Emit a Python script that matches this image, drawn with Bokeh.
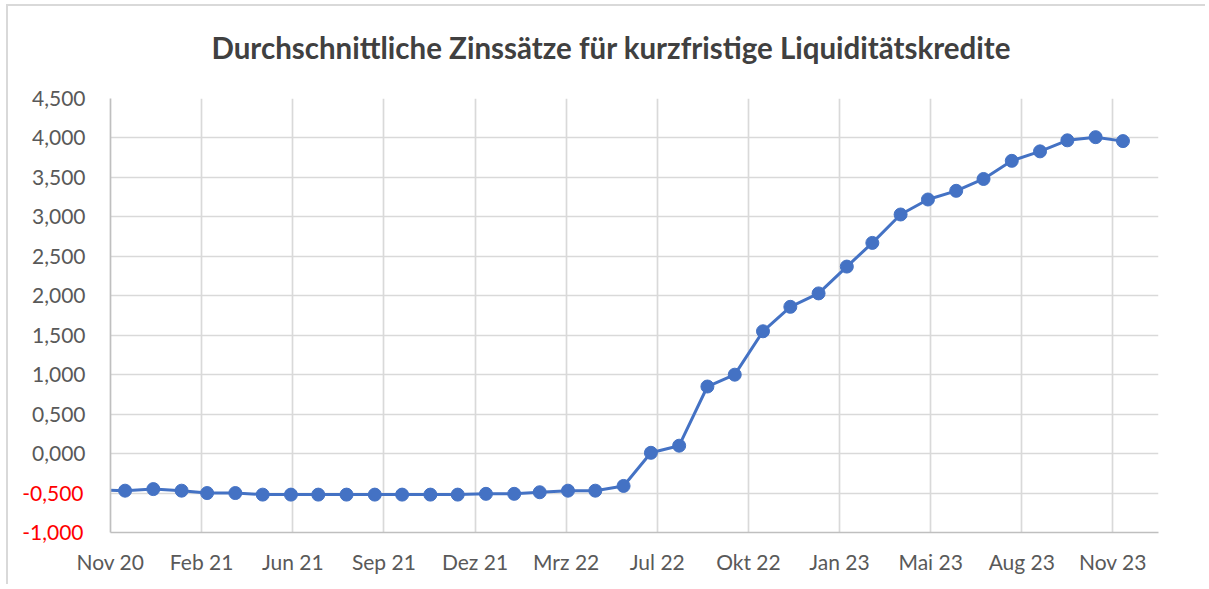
import pandas as pd
from bokeh.plotting import figure
from bokeh.models import FixedTicker, Range1d, LinearAxis, Title
from bokeh.embed import file_html
from bokeh.resources import INLINE

# ---- data -------------------------------------------------------------
# month-end observation dates, Oct 2020 .. Nov 2023
months = pd.date_range(start="2020-11-01", periods=38, freq="MS") - pd.Timedelta(days=1)
rates = [-0.46, -0.47, -0.45, -0.47, -0.50, -0.50, -0.52, -0.52, -0.52, -0.52,
         -0.52, -0.52, -0.52, -0.52, -0.51, -0.51, -0.49, -0.47, -0.47, -0.41,
         0.01, 0.10, 0.85, 1.00, 1.55, 1.86, 2.03, 2.37, 2.67, 3.03,
         3.22, 3.33, 3.48, 3.71, 3.83, 3.97, 4.01, 3.96]

axis_start = "2020-11-14"
axis_end = "2024-01-08"
tick_step_days = 100
x_tick_labels = ["Nov 20", "Feb 21", "Jun 21", "Sep 21", "Dez 21", "Mrz 22",
                 "Jul 22", "Okt 22", "Jan 23", "Mai 23", "Aug 23", "Nov 23"]
y_ticks = [-1.0, -0.5, 0.0, 0.5, 1.0, 1.5, 2.0, 2.5, 3.0, 3.5, 4.0, 4.5]
y_tick_labels = ["-1,000", "-0,500", "0,000", "0,500", "1,000", "1,500",
                 "2,000", "2,500", "3,000", "3,500", "4,000", "4,500"]
title = "Durchschnittliche  Zinssätze für kurzfristige Liquiditätskredite"

# ---- helpers ----------------------------------------------------------
def ms(ts):
    return float(pd.Timestamp(ts).value // 10**6)

start_ms = ms(axis_start)
end_ms = ms(axis_end)
x_ticks = [start_ms + k * tick_step_days * 86400000.0 for k in range(len(x_tick_labels))]

FONT = "Lato"
LABEL_COLOR = "#595959"
GRID_COLOR = "#D9D9D9"
AXIS_COLOR = "#BFBFBF"
LINE_COLOR = "#4472C4"
STANDOFF = 25
INNER_LABEL_W = 54  # approx. width of "4,500" at 21px Lato

p = figure(width=1199, height=580, x_axis_type="datetime",
           x_range=Range1d(start_ms, end_ms), y_range=Range1d(-1.0, 4.5),
           output_backend="svg", toolbar_location=None,
           min_border_left=102, min_border_right=49,
           min_border_top=92, min_border_bottom=54)
p.title = None
p.styles = {"border-left": "2px solid #D9D9D9", "border-top": "2px solid #D9D9D9",
            "margin-left": "6px", "margin-top": "4px"}
p.outline_line_color = None
p.background_fill_color = "white"
p.border_fill_color = "white"

# spacer (nearest the frame) then the real title above it
spacer = Title(text=" ", text_font=FONT, text_font_size="10px", standoff=20)
p.add_layout(spacer, "above")
main_title = Title(text=title, text_font=FONT, text_font_style="bold",
                   text_font_size="29.5px", text_color="#404040",
                   align="left", offset=101, vertical_align="bottom", standoff=0)
p.add_layout(main_title, "above")

# x axis
xa = p.xaxis[0]
xa.ticker = FixedTicker(ticks=x_ticks)
xa.major_label_overrides = {t: lab for t, lab in zip(x_ticks, x_tick_labels)}
xa.major_label_text_font = FONT
xa.major_label_text_font_size = "21px"
xa.major_label_text_color = LABEL_COLOR
xa.major_tick_line_color = None
xa.minor_tick_line_color = None
xa.major_tick_out = 0
xa.major_tick_in = 0
xa.major_label_standoff = 16
xa.axis_line_color = AXIS_COLOR
xa.axis_line_width = 1.7

# inner y axis: non-negative labels in grey
ya = p.yaxis[0]
ya.ticker = FixedTicker(ticks=y_ticks)
ya.major_label_overrides = {t: (lab if t >= 0 else "") for t, lab in zip(y_ticks, y_tick_labels)}
ya.major_label_text_font = FONT
ya.major_label_text_font_size = "21px"
ya.major_label_text_color = LABEL_COLOR
ya.major_tick_line_color = None
ya.minor_tick_line_color = None
ya.major_tick_out = 0
ya.major_tick_in = 0
ya.major_label_standoff = STANDOFF
ya.axis_line_color = AXIS_COLOR
ya.axis_line_width = 1.7

# outer y axis: negative labels in red, pulled back onto the same column
neg_ticks = [t for t in y_ticks if t < 0]
yb = LinearAxis(ticker=FixedTicker(ticks=neg_ticks),
                major_label_overrides={t: lab for t, lab in zip(y_ticks, y_tick_labels) if t < 0})
yb.major_label_text_font = FONT
yb.major_label_text_font_size = "21px"
yb.major_label_text_color = "#FF0000"
yb.major_tick_line_color = None
yb.minor_tick_line_color = None
yb.major_tick_out = 0
yb.major_tick_in = 0
yb.major_label_standoff = -INNER_LABEL_W
yb.axis_line_color = None
p.add_layout(yb, "left")

p.xgrid.grid_line_color = GRID_COLOR
p.ygrid.grid_line_color = GRID_COLOR
p.xgrid.grid_line_width = 1.7
p.ygrid.grid_line_width = 1.7

p.line(months, rates, line_color=LINE_COLOR, line_width=3)
p.scatter(months, rates, size=13, fill_color=LINE_COLOR, line_color=LINE_COLOR)

open("out.html", "w").write(file_html(p, INLINE))
